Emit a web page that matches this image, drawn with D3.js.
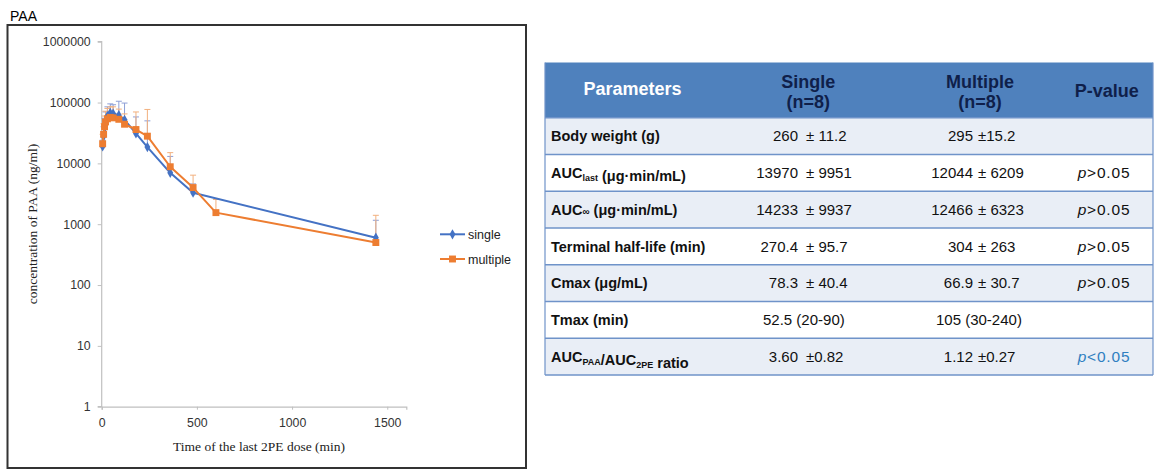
<!DOCTYPE html>
<html>
<head>
<meta charset="utf-8">
<script src="https://cdn.jsdelivr.net/npm/d3@7"></script>
<style>
  html, body { margin: 0; padding: 0; background: #ffffff; }
  svg { display: block; }
</style>
</head>
<body>
<svg id="chart" width="1156" height="470"></svg>
<script>
// ---------- Data ----------
const seriesNames = ["single", "multiple"];
const timesSingle = [5, 10, 15, 20, 30, 45, 60, 90, 120, 180, 240, 360, 480, 1440];
const meanSingle  = [19000, 28000, 38000, 48000, 60000, 68000, 66000, 62000, 52000, 31000, 18500, 7000, 3300, 600];
const sdSingle    = [5000, 12000, 17000, 22000, 25000, 27000, 26000, 43000, 46000, 27000, 31500, 6000, 1300, 560];
const timesMultiple = [5, 10, 15, 20, 30, 45, 60, 90, 120, 180, 240, 360, 480, 600, 1440];
const meanMultiple  = [21000, 30000, 40000, 48000, 54000, 57000, 56000, 53000, 44000, 36000, 28000, 8800, 4000, 1550, 500];
const sdMultiple    = [9000, 15000, 20000, 24000, 26000, 28000, 29000, 25000, 21000, 34000, 49000, 6200, 2400, 1000, 900];
const yTicks = [1, 10, 100, 1000, 10000, 100000, 1000000];
const xTicks = [0, 500, 1000, 1500];

const tableHeaders = [["Parameters"], ["Single", "(n=8)"], ["Multiple", "(n=8)"], ["P-value"]];
const rowLabels = ["Body weight (g)", "AUC_last (μg·min/mL)", "AUC∞ (μg·min/mL)", "Terminal half-life (min)", "Cmax (μg/mL)", "Tmax (min)", "AUC_PAA/AUC_2PE ratio"];
const singleMean = ["260", "13970", "14233", "270.4", "78.3", "52.5 (20-90)", "3.60"];
const singleSD   = ["± 11.2", "± 9951", "± 9937", "± 95.7", "± 40.4", "", "±0.82"];
const multiMean  = ["295", "12044", "12466", "304", "66.9", "105 (30-240)", "1.12"];
const multiSD    = ["±15.2", "± 6209", "± 6323", "± 263", "± 30.7", "", "±0.27"];
const pValues    = ["", ">0.05", ">0.05", ">0.05", ">0.05", "", "<0.05"];

// ---------- Chart ----------
const svg = d3.select("#chart");
const colors = { single: "#4472c4", multiple: "#ed7d31" };
const errColors = { single: "#8e9fd6", multiple: "#f2b07e" };
const sansFont = "'Liberation Sans', Arial, sans-serif";
const serifFont = "'Liberation Serif', 'Times New Roman', serif";

// panel frame and title
svg.append("text").attr("x", 10).attr("y", 21).attr("font-family", sansFont)
  .attr("font-size", 14).attr("fill", "#000").text("PAA");
svg.append("rect").attr("x", 7.5).attr("y", 25).attr("width", 518.5).attr("height", 443)
  .attr("fill", "none").attr("stroke", "#333").attr("stroke-width", 2);

const x = d3.scaleLinear().domain([0, 1600]).range([101.7, 406.3]);
const y = d3.scaleLog().domain([1, 1000000]).range([406.7, 41.7]);

const yAxis = d3.axisLeft(y).tickValues(yTicks).tickFormat(d3.format("d")).tickSize(4).tickPadding(7);
const gy = svg.append("g").attr("transform", `translate(${x(0)},0)`).call(yAxis);
const xAxis = d3.axisBottom(x).tickValues(xTicks).tickFormat(d3.format("d")).tickSize(3).tickPadding(9);
const gx = svg.append("g").attr("transform", `translate(0,${y(1)})`).call(xAxis);
[gx, gy].forEach(g => {
  g.select(".domain").attr("stroke", "#c0c0c0").attr("stroke-width", 1.2);
  g.selectAll(".tick line").attr("stroke", "#c0c0c0");
  g.selectAll(".tick text").attr("font-family", sansFont).attr("font-size", 12.3).attr("fill", "#333");
});
gy.select(".domain").attr("d", `M-4,${y(1)}H0V${y(1000000)}H-4`);

// axis titles
svg.append("text").attr("transform", `translate(37,224) rotate(-90)`).attr("text-anchor", "middle")
  .attr("font-family", serifFont).attr("font-size", 13.5).attr("fill", "#222")
  .text("concentration of PAA (ng/ml)");
svg.append("text").attr("x", 259).attr("y", 451).attr("text-anchor", "middle")
  .attr("font-family", serifFont).attr("font-size", 13.5).attr("fill", "#222")
  .text("Time of the last 2PE dose (min)");

const series = [
  { name: "single", t: timesSingle, m: meanSingle, s: sdSingle },
  { name: "multiple", t: timesMultiple, m: meanMultiple, s: sdMultiple }
];

// error bars (upper only)
series.forEach(ser => {
  const g = svg.append("g");
  ser.t.forEach((t, i) => {
    const top = ser.m[i] + ser.s[i];
    g.append("line").attr("x1", x(t)).attr("x2", x(t)).attr("y1", y(ser.m[i])).attr("y2", y(top))
      .attr("stroke", errColors[ser.name]).attr("stroke-width", 1);
    g.append("line").attr("x1", x(t) - 3).attr("x2", x(t) + 3).attr("y1", y(top)).attr("y2", y(top))
      .attr("stroke", errColors[ser.name]).attr("stroke-width", 1);
  });
});

// lines and markers
const line = d3.line().x(d => x(d[0])).y(d => y(d[1]));
series.forEach(ser => {
  const pts = ser.t.map((t, i) => [t, ser.m[i]]);
  svg.append("path").datum(pts).attr("d", line).attr("fill", "none")
    .attr("stroke", colors[ser.name]).attr("stroke-width", 2).attr("stroke-linejoin", "round");
  const sym = ser.name === "single" ? d3.symbolDiamond : d3.symbolSquare;
  const size = ser.name === "single" ? 30 : 48;
  svg.append("g").selectAll("path").data(pts).join("path")
    .attr("transform", d => `translate(${x(d[0])},${y(d[1])})`)
    .attr("d", d3.symbol().type(sym).size(size))
    .attr("fill", colors[ser.name]);
});

// legend
seriesNames.forEach((name, i) => {
  const ly = 234.3 + i * 24.7;
  svg.append("line").attr("x1", 440).attr("x2", 465).attr("y1", ly).attr("y2", ly)
    .attr("stroke", colors[name]).attr("stroke-width", 2);
  const sym = name === "single" ? d3.symbolDiamond : d3.symbolSquare;
  svg.append("path").attr("transform", `translate(452.5,${ly})`)
    .attr("d", d3.symbol().type(sym).size(name === "single" ? 30 : 48)).attr("fill", colors[name]);
  svg.append("text").attr("x", 468).attr("y", ly + 4.5).attr("font-family", sansFont)
    .attr("font-size", 12.5).attr("fill", "#222").text(name);
});

// ---------- Table ----------
const tX0 = 545, tX1 = 1153, hTop = 62.5, hBot = 117.7, rowH = 36.75;
const tg = svg.append("g");
tg.append("rect").attr("x", tX0).attr("y", hTop).attr("width", tX1 - tX0).attr("height", hBot - hTop)
  .attr("fill", "#4f81bd");
rowLabels.forEach((lab, i) => {
  tg.append("rect").attr("x", tX0).attr("y", hBot + i * rowH).attr("width", tX1 - tX0).attr("height", rowH)
    .attr("fill", i % 2 === 0 ? "#e9eef6" : "#ffffff");
});
for (let i = 0; i <= rowLabels.length; i++) {
  tg.append("line").attr("x1", tX0).attr("x2", tX1).attr("y1", hBot + i * rowH).attr("y2", hBot + i * rowH)
    .attr("stroke", "#6f93c9").attr("stroke-width", 1.6);
}
tg.append("line").attr("x1", tX0).attr("x2", tX0).attr("y1", hTop).attr("y2", hBot + rowLabels.length * rowH)
  .attr("stroke", "#6f93c9").attr("stroke-width", 1.2);
tg.append("line").attr("x1", tX1).attr("x2", tX1).attr("y1", hTop).attr("y2", hBot + rowLabels.length * rowH)
  .attr("stroke", "#6f93c9").attr("stroke-width", 1.2);

// header texts
const headerX = [632.5, 808.3, 980, 1106.7];
tableHeaders.forEach((lines, j) => {
  const t = tg.append("text").attr("text-anchor", "middle").attr("font-family", sansFont)
    .attr("font-weight", "bold").attr("font-size", 18)
    .attr("fill", j === 0 ? "#ffffff" : "#0f1f4a");
  if (lines.length === 1) {
    t.attr("x", headerX[j]).attr("y", j === 0 ? 94.5 : 97).text(lines[0]);
  } else {
    t.append("tspan").attr("x", headerX[j]).attr("y", 87.5).text(lines[0]);
    t.append("tspan").attr("x", headerX[j]).attr("y", 108).text(lines[1]);
  }
});

// row labels with subscripts
function addLabel(str, yy) {
  const t = tg.append("text").attr("x", 551).attr("y", yy).attr("font-family", sansFont)
    .attr("font-weight", "bold").attr("font-size", 14.5).attr("fill", "#111");
  const parts = str.split(/(_[A-Za-z0-9]+)/);
  parts.forEach(p => {
    if (!p) return;
    if (p[0] === "_") {
      t.append("tspan").attr("font-size", 9).attr("dy", 3).text(p.slice(1));
      t.append("tspan").attr("dy", -3).text("");
    } else if (p.startsWith("AUC∞")) {
      t.append("tspan").text("AUC");
      t.append("tspan").attr("font-size", 10).text("∞");
      t.append("tspan").text(p.slice(4));
    } else {
      t.append("tspan").text(p);
    }
  });
}
rowLabels.forEach((lab, i) => {
  const cy = hBot + rowH * (i + 0.5) + 5.3;
  addLabel(lab, cy);
  const valFont = (sel) => sel.attr("font-family", sansFont).attr("font-size", 15).attr("fill", "#111");
  if (singleSD[i] === "") {
    valFont(tg.append("text").attr("x", 763).attr("y", cy)).text(singleMean[i]);
    valFont(tg.append("text").attr("x", 936).attr("y", cy)).text(multiMean[i]);
  } else {
    valFont(tg.append("text").attr("x", 798).attr("y", cy).attr("text-anchor", "end")).text(singleMean[i]);
    valFont(tg.append("text").attr("x", 806).attr("y", cy)).text(singleSD[i]);
    valFont(tg.append("text").attr("x", 973).attr("y", cy).attr("text-anchor", "end")).text(multiMean[i]);
    valFont(tg.append("text").attr("x", 978).attr("y", cy)).text(multiSD[i]);
  }
  if (pValues[i]) {
    const pt = tg.append("text").attr("x", 1104).attr("y", cy).attr("text-anchor", "middle")
      .attr("font-family", sansFont).attr("font-size", 15.5).attr("letter-spacing", 0.8)
      .attr("fill", i === rowLabels.length - 1 ? "#2f7fc1" : "#111");
    pt.append("tspan").attr("font-style", "italic").text("p");
    pt.append("tspan").text(pValues[i]);
  }
});
</script>
</body>
</html>
